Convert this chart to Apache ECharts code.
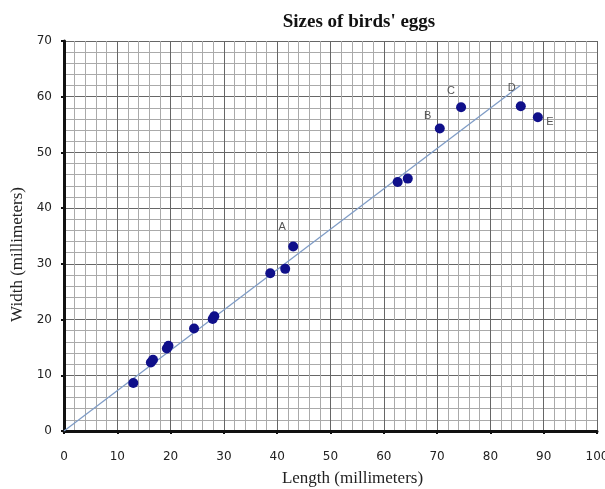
<!DOCTYPE html>
<html>
<head>
<meta charset="utf-8">
<script src="https://cdn.jsdelivr.net/npm/echarts@6/dist/echarts.min.js"></script>
<style>
  html, body { margin: 0; padding: 0; background: #fff; }
  #chart { width: 605px; height: 489px; }
</style>
</head>
<body>
<div id="chart"></div>
<script>
// Egg measurements: [length mm, width mm]
const eggs = [
  [13.0, 8.6], [16.3, 12.3], [16.7, 12.8], [19.3, 14.8], [19.6, 15.3],
  [24.4, 18.4], [27.9, 20.1], [28.2, 20.6], [38.7, 28.3], [41.5, 29.1],
  [62.6, 44.7], [64.5, 45.3]
];
// Named eggs
const namedEggs = [
  { name: 'A', value: [43.0, 33.1] },
  { name: 'B', value: [70.5, 54.3] },
  { name: 'C', value: [74.5, 58.1] },
  { name: 'D', value: [85.7, 58.3] },
  { name: 'E', value: [88.9, 56.3] }
];
// Label offsets for the named eggs
const labelOffsets = { A: [-11, -20], B: [-12, -13], C: [-10, -16], D: [-9, -18], E: [12, 5] };
// Fitted line through the origin
const trendLine = [[0, 0], [85.6, 62.0]];

const xTicks = [0, 10, 20, 30, 40, 50, 60, 70, 80, 90, 100];
const yTicks = [0, 10, 20, 30, 40, 50, 60, 70];

const chart = echarts.init(document.getElementById('chart'));

const axisCommon = {
  type: 'value',
  interval: 10,
  axisLine: { show: true, lineStyle: { color: '#111', width: 3 } },
  axisTick: { show: true, length: 3, lineStyle: { color: '#111', width: 2 } },
  axisLabel: { color: '#222', fontFamily: 'DejaVu Sans', fontSize: 12 },
  splitLine: { show: true, lineStyle: { color: '#666', width: 1 } },
  minorTick: { show: true, splitNumber: 5, length: 0 },
  minorSplitLine: { show: true, lineStyle: { color: '#aaa', width: 1 } }
};

chart.setOption({
  animation: false,
  backgroundColor: '#fff',
  title: {
    text: "Sizes of birds' eggs",
    left: 354, top: 8, textAlign: 'center',
    textStyle: { fontFamily: 'Liberation Serif', fontWeight: 'bold', fontSize: 19, color: '#111' }
  },
  grid: { left: 64, right: 8, top: 41, bottom: 58, containLabel: false, outerBoundsMode: 'none' },
  xAxis: Object.assign({}, axisCommon, {
    min: xTicks[0], max: xTicks[xTicks.length - 1],
    axisLabel: Object.assign({}, axisCommon.axisLabel, { margin: 20 }),
    name: 'Length (millimeters)',
    nameLocation: 'middle',
    nameGap: 39,
    nameTextStyle: { fontFamily: 'Liberation Serif', fontSize: 17, color: '#222', padding: [0, 0, 0, 44] }
  }),
  yAxis: Object.assign({}, axisCommon, {
    min: yTicks[0], max: yTicks[yTicks.length - 1],
    axisLabel: Object.assign({}, axisCommon.axisLabel, { margin: 12 }),
    name: 'Width (millimeters)',
    nameLocation: 'middle',
    nameGap: 36,
    nameTextStyle: { fontFamily: 'Liberation Serif', fontSize: 17, color: '#222', padding: [0, 37, 0, 0] }
  }),
  series: [
    {
      type: 'line',
      data: trendLine,
      symbol: 'none',
      lineStyle: { color: '#7f9cc6', width: 1.3 },
      z: 3
    },
    {
      type: 'scatter',
      data: eggs,
      symbolSize: 10,
      itemStyle: { color: '#10108a', opacity: 1 },
      z: 4
    },
    {
      type: 'scatter',
      data: namedEggs.map(d => ({
        name: d.name,
        value: d.value,
        label: {
          show: true, position: 'inside', formatter: '{b}',
          offset: labelOffsets[d.name],
          color: '#555', fontFamily: 'Liberation Sans', fontSize: 11
        }
      })),
      symbolSize: 10,
      itemStyle: { color: '#10108a', opacity: 1 },
      z: 4
    }
  ]
});
</script>
</body>
</html>
